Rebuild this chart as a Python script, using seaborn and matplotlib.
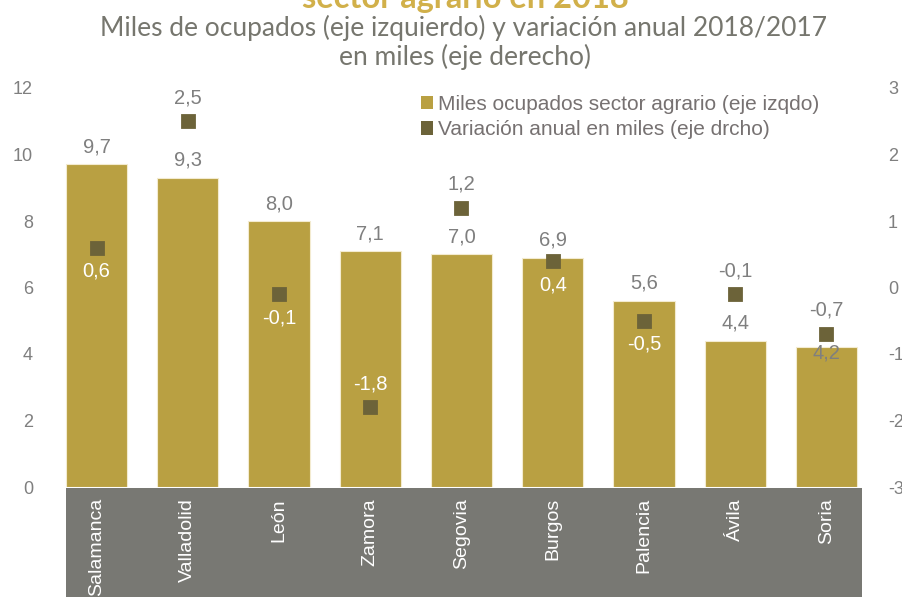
import matplotlib
matplotlib.use("Agg")
import matplotlib.pyplot as plt
import seaborn as sns
import pandas as pd
import numpy as np
from matplotlib.patches import Patch, Rectangle

provincias = ["Salamanca", "Valladolid", "León", "Zamora", "Segovia", "Burgos", "Palencia", "Ávila", "Soria"]
ocupados = [9.7, 9.3, 8.0, 7.1, 7.0, 6.9, 5.6, 4.4, 4.2]
variacion = [0.6, 2.5, -0.1, -1.8, 1.2, 0.4, -0.5, -0.1, -0.7]
# label placement for variation values: below (+1) or above (-1) the marker
var_pos = [1, -1, 1, -1, -1, 1, 1, -1, -1]

titulo = "sector agrario en 2018"
subtitulo1 = "Miles de ocupados (eje izquierdo) y variación anual 2018/2017"
subtitulo2 = "en miles (eje derecho)"
leyenda = ["Miles ocupados sector agrario (eje izqdo)", "Variación anual en miles (eje drcho)"]

BAR = "#B9A042"
MARK = "#6C6339"
GRAY = "#7F7F7F"
TXT = "#767171"
BAND = "#787873"

sns.set_theme(style="white")
plt.rcParams["font.family"] = ["Liberation Sans", "DejaVu Sans"]
plt.rcParams["axes.unicode_minus"] = False

df = pd.DataFrame({"provincia": provincias, "ocupados": ocupados, "variacion": variacion})

W, H = 903, 597
fig = plt.figure(figsize=(W / 100, H / 100), dpi=100)
ax = fig.add_axes([51 / W, 1 - 487 / H, (872 - 51) / W, (487 - 88) / H])
ax.patch.set_alpha(0)

sns.barplot(data=df, x="provincia", y="ocupados", color=BAR, saturation=1,
            width=0.67, edgecolor="#F3EBD0", linewidth=0.8, ax=ax)
ax.set_ylim(0, 12)
ax.set_yticks(np.arange(0, 13, 2))
ax.set_xlabel("")
ax.set_ylabel("")
for s in ax.spines.values():
    s.set_visible(False)
ax.tick_params(axis="y", length=0, labelsize=13, labelcolor=GRAY, pad=13)
ax.tick_params(axis="x", length=0, labelsize=14, labelcolor="white", pad=8)
for lab in ax.get_xticklabels():
    lab.set_rotation(90)
    lab.set_va("top")
    lab.set_ha("center")

ax2 = ax.twinx()
sns.pointplot(data=df, x="provincia", y="variacion", color=MARK, linestyle="none",
              marker="s", markersize=9, ax=ax2, errorbar=None)
ax2.set_ylim(-3, 3)
ax2.set_yticks(np.arange(-3, 4, 1))
ax2.set_ylabel("")
ax2.set_xlabel("")
for s in ax2.spines.values():
    s.set_visible(False)
ax2.tick_params(axis="y", length=0, labelsize=13, labelcolor=GRAY, pad=11.5)
ax2.set_xlim(ax.get_xlim())

# gray band behind category labels
fig.patches.append(Rectangle((66 / W, 0), (862 - 66) / W, (597 - 488) / H,
                             transform=fig.transFigure, facecolor=BAND,
                             edgecolor="none", zorder=-1))

fmt = lambda v: f"{v:.1f}".replace(".", ",")

# bar labels
for i, v in enumerate(ocupados):
    if i == len(ocupados) - 1:
        ax.annotate(fmt(v), (i, v), xytext=(0, -4), textcoords="offset points",
                    ha="center", va="center", fontsize=14.5, color=GRAY, zorder=5)
    else:
        ax.annotate(fmt(v), (i, v), xytext=(0, 12.5), textcoords="offset points",
                    ha="center", va="center", fontsize=14.5, color=GRAY)

# variation labels
for i, (v, p) in enumerate(zip(variacion, var_pos)):
    inside = ax2.transData.transform((i, v))[1] < ax.transData.transform((i, ocupados[i]))[1]
    col = "white" if inside else GRAY
    ax2.annotate(fmt(v), (i, v), xytext=(0, -17 * p), textcoords="offset points",
                 ha="center", va="center", fontsize=14.5, color=col)

# titles
fig.text(465 / W, 1 - 8 / H, titulo, ha="center", va="baseline", fontsize=23.5,
         fontweight="bold", color="#D1B04A", family=["Lato", "DejaVu Sans"])
fig.text(464 / W, 1 - 36 / H, subtitulo1, ha="center", va="baseline", fontsize=19,
         color="#76766E", family=["Lato", "DejaVu Sans"])
fig.text(465 / W, 1 - 65 / H, subtitulo2, ha="center", va="baseline", fontsize=19,
         color="#76766E", family=["Lato", "DejaVu Sans"])

handles = [Patch(facecolor=BAR, edgecolor="none"), Patch(facecolor=MARK, edgecolor="none")]
fig.legend(handles, leyenda, loc="upper left", bbox_to_anchor=(421 / W, 1 - 95 / H),
           frameon=False, fontsize=15, labelcolor=TXT, handlelength=0.6,
           handleheight=0.6, handletextpad=0.2, labelspacing=0.3, borderaxespad=0,
           borderpad=0)

fig.savefig("out.png", dpi=100)
